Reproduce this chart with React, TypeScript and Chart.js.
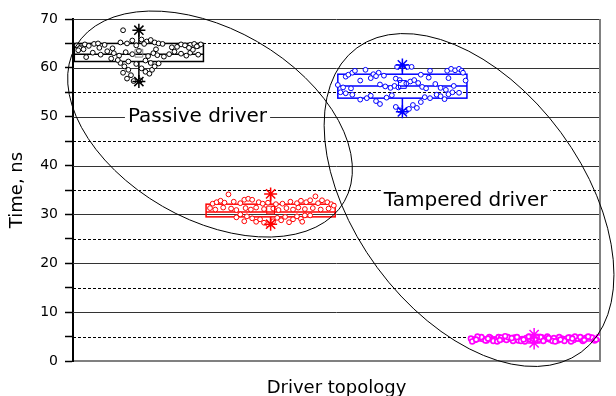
import React, { useEffect, useRef } from 'react';
import { Chart, registerables } from 'chart.js';

Chart.register(...registerables);

// ---- data ----
const categories = ['Passive A', 'Passive B', 'Tampered A', 'Tampered B'];
const colors = ['#000000', '#ff0000', '#0000ff', '#ff00ff'];
const meanColors = ['#808080', '#ff0000', '#0000ff', '#ff00ff'];

const blackOffsets = [-0.47, -0.44, -0.41, -0.38, -0.34, -0.31, -0.14, -0.09, -0.05, 0.02, 0.06, 0.09, 0.12, 0.15, 0.18, 0.32, 0.35, 0.39, 0.42, 0.45, 0.47, -0.45, -0.42,
  -0.40, -0.35, -0.29, -0.24, -0.19, -0.15, -0.10, -0.05, 0.07, 0.11, 0.14, 0.19, 0.23, 0.27, 0.32, 0.36, 0.39, 0.45,
  -0.14, -0.11, -0.08, -0.12, -0.06, -0.09, -0.04, -0.02, 0.02, 0.05, 0.08, 0.10, 0.12, 0.09, -0.16, -0.21, 0.05, 0.01, 0.15, -0.08,
  -0.46, -0.30, 0.0, 0.25, 0.41, -0.20, 0.13, -0.02, 0.04, 0.29, 0.38, 0.44, -0.26,
  -0.12];
const blackValues = [64.6, 64.2, 64.8, 64.5, 64.9, 65.0, 65.2, 65.0, 65.6, 65.8, 65.4, 65.7, 65.2, 65.0, 64.9, 64.8, 64.6, 64.7, 64.9, 64.5, 64.8, 64.0, 63.8,
  62.2, 63.1, 62.7, 63.4, 63.0, 62.5, 63.2, 62.8, 62.4, 63.0, 62.6, 62.3, 62.8, 63.3, 62.9, 62.5, 63.1, 62.7,
  61.0, 60.3, 59.6, 59.0, 58.5, 57.8, 57.3, 60.8, 59.9, 59.2, 58.8, 59.6, 60.3, 61.0, 61.6, 61.9, 61.5, 57.4, 60.9, 61.3,
  63.6, 64.1, 63.5, 64.2, 63.7, 64.0, 63.8, 64.6, 64.9, 64.3, 64.1, 64.4, 64.7,
  67.7];

const redOffsets = [-0.44, -0.41, -0.38, -0.35, -0.32, -0.28, -0.23, -0.20, -0.17, -0.14, -0.09, -0.06, -0.02, 0.04, 0.09, 0.15, 0.20, 0.23, 0.27, 0.30, 0.34, 0.36, 0.39, 0.43, 0.46, 0.48,
  -0.46, -0.42, -0.36, -0.30, -0.26, -0.19, -0.15, -0.11, -0.05, 0.02, 0.06, 0.12, 0.17, 0.21, 0.26, 0.32, 0.38, 0.44,
  -0.23, -0.18, -0.14, -0.11, -0.08, -0.05, -0.02, 0.02, 0.05, 0.08, 0.11, 0.14, 0.17, 0.20, 0.23, 0.26, -0.26, -0.20, 0.24, 0.30];
const redValues = [32.2, 32.5, 32.8, 32.4, 34.1, 32.6, 32.3, 33.0, 33.2, 33.0, 32.5, 32.2, 32.4, 32.1, 32.2, 32.6, 32.3, 32.8, 32.5, 32.9, 33.7, 32.3, 32.9, 32.5, 32.1, 31.8,
  31.3, 31.0, 31.4, 31.2, 30.9, 31.3, 31.0, 31.4, 31.1, 31.2, 30.9, 31.3, 31.0, 31.4, 31.1, 31.3, 31.0, 31.2,
  30.0, 29.6, 29.2, 28.5, 29.0, 28.3, 28.0, 28.6, 29.3, 28.8, 29.5, 28.4, 29.0, 29.6, 29.1, 29.8, 29.4, 28.6, 28.5, 29.8];

const blueOffsets = [-0.43, -0.41, -0.38, -0.36, -0.22, -0.18, -0.14, -0.04, 0.0, 0.04, 0.07, 0.20, 0.21, 0.35, 0.34, 0.37, 0.40, 0.43, 0.45, 0.46, -0.28, 0.14,
  -0.49, -0.45, -0.39, -0.17, -0.13, -0.09, -0.06, -0.03, 0.03, 0.06, 0.09, 0.12, 0.15, 0.18, 0.25, 0.29, 0.33, 0.39, 0.48, -0.32, -0.24, -0.20, -0.05, -0.02,
  -0.47, -0.43, -0.38, -0.32, -0.27, -0.24, -0.20, -0.17, -0.12, -0.08, -0.05, -0.02, 0.02, 0.05, 0.08, 0.11, 0.14, 0.17, 0.21, 0.26, 0.29, 0.32, 0.35, 0.38, 0.43];
const blueValues = [58.2, 58.6, 59.0, 59.4, 58.7, 59.0, 58.4, 60.2, 60.4, 60.2, 60.2, 58.0, 59.4, 57.9, 59.4, 59.8, 59.5, 59.8, 59.4, 59.0, 59.6, 58.6,
  56.5, 56.0, 55.8, 56.6, 56.2, 55.9, 56.3, 56.0, 56.8, 57.2, 57.5, 56.9, 56.1, 55.8, 56.7, 55.9, 55.5, 56.3, 57.4, 57.4, 57.9, 58.3, 57.8, 57.5,
  55.0, 54.8, 54.5, 53.5, 53.8, 54.3, 53.2, 52.6, 53.9, 54.4, 52.0, 51.3, 51.0, 51.6, 52.4, 51.8, 53.0, 54.0, 53.8, 54.5, 54.2, 53.6, 54.6, 55.0, 54.9];

const magentaOffsets = [-0.48, -0.45, -0.42, -0.39, -0.36, -0.33, -0.30, -0.27, -0.24, -0.21, -0.18, -0.15, -0.12, -0.09, -0.06, -0.03, 0.0, 0.03, 0.06, 0.09, 0.12,
  0.15, 0.18, 0.21, 0.24, 0.27, 0.30, 0.33, 0.36, 0.39, 0.42, 0.45, 0.48, -0.40, -0.31, -0.20, -0.10, 0.05, 0.14, 0.26, 0.35, 0.44,
  -0.47, -0.43, -0.37, -0.34, -0.28, -0.25, -0.22, -0.16, -0.13, -0.07, -0.04, -0.01, 0.02, 0.07, 0.10, 0.16, 0.19, 0.23, 0.28, 0.31, 0.37, 0.41, 0.46, 0.49,
  -0.44, -0.35, -0.26, -0.17, -0.08, 0.01, 0.11, 0.20, 0.29, 0.38, 0.47];
const magentaValues = [4.6, 4.3, 4.8, 4.5, 4.2, 4.7, 4.4, 4.9, 4.5, 4.3, 4.6, 4.8, 4.2, 4.5, 4.7, 4.4, 4.6, 4.3, 4.8, 4.5, 4.4,
  4.7, 4.2, 4.6, 4.5, 4.8, 4.3, 4.6, 4.4, 4.7, 4.9, 4.5, 4.6, 4.9, 4.1, 4.9, 4.1, 4.9, 4.1, 4.8, 4.9, 4.8,
  4.0, 5.0, 4.2, 4.9, 4.0, 4.8, 5.1, 4.1, 4.9, 4.0, 5.0, 4.2, 4.9, 4.1, 5.0, 4.0, 4.9, 4.1, 4.0, 5.0, 4.1, 5.0, 4.2, 4.9,
  4.4, 4.6, 4.3, 4.7, 4.4, 4.3, 4.7, 4.4, 4.6, 4.3, 4.4];

const groupOffsets = [blackOffsets, redOffsets, blueOffsets, magentaOffsets];
const groupValues = [blackValues, redValues, blueValues, magentaValues];

const boxQ1 = [61.3, 29.5, 53.8, 4.1];
const boxQ3 = [65.0, 32.1, 58.7, 4.9];
const boxMedian = [62.8, 30.5, 56.3, 4.5];
const boxMean = [63.0, 30.9, 56.6, 4.5];
const whiskerLow = [57.2, 28.0, 51.0, 3.7];
const whiskerHigh = [67.7, 34.2, 60.6, 5.4];

const yMin = 0;
const yMax = 70;
const yStep = 5;
const yLabelStep = 10;

const labelTexts = ['Passive driver', 'Tampered driver'];
const labelX = [0.945, 2.98];
const labelY = [50, 32.85];

const ellipseCX = [1.04, 3.006];
const ellipseCY = [48.5, 32.95];

const xTitle = 'Driver topology';
const yTitle = 'Time, ns';

// ---- styles ----
const FONT = 'DejaVu Sans';
const boxHalf = 0.49;
const pointBorder = [1, 1, 1, 1.6];
const ellipseRX = [155, 189];
const ellipseRY = [95, 114];
const ellipseRot = [30, 53.6];

const overlay = {
  id: 'overlay',
  beforeDatasetsDraw(chart: any) {
    const { ctx, chartArea: a, scales } = chart;
    const x = scales.x;
    const y = scales.y;
    ctx.save();
    for (let v = yMin + yStep; v <= yMax; v += yStep) {
      const py = Math.round(y.getPixelForValue(v)) + 0.5;
      ctx.beginPath();
      if (v % yLabelStep === 0) {
        ctx.setLineDash([]);
        ctx.strokeStyle = '#333333';
      } else {
        ctx.setLineDash([3, 2]);
        ctx.strokeStyle = '#000000';
      }
      ctx.lineWidth = 1;
      ctx.moveTo(a.left, py);
      ctx.lineTo(a.right, py);
      ctx.stroke();
    }
    ctx.setLineDash([]);
    // right border
    ctx.strokeStyle = '#808080';
    ctx.lineWidth = 2;
    ctx.beginPath();
    ctx.moveTo(a.right, a.top);
    ctx.lineTo(a.right, a.bottom);
    ctx.stroke();
    // boxes
    categories.forEach((_, i) => {
      const cx = x.getPixelForValue(i + 0.5);
      const l = x.getPixelForValue(i + 0.5 - boxHalf);
      const r = x.getPixelForValue(i + 0.5 + boxHalf);
      const t = y.getPixelForValue(boxQ3[i]);
      const b = y.getPixelForValue(boxQ1[i]);
      const m = y.getPixelForValue(boxMedian[i]);
      ctx.strokeStyle = colors[i];
      ctx.lineWidth = 1.5;
      ctx.strokeRect(l, t, r - l, b - t);
      ctx.beginPath();
      ctx.moveTo(l, m);
      ctx.lineTo(r, m);
      ctx.moveTo(cx, t);
      ctx.lineTo(cx, y.getPixelForValue(whiskerHigh[i]));
      ctx.moveTo(cx, b);
      ctx.lineTo(cx, y.getPixelForValue(whiskerLow[i]));
      ctx.stroke();
    });
    ctx.restore();
  },
  afterDraw(chart: any) {
    const { ctx, scales } = chart;
    const x = scales.x;
    const y = scales.y;
    ctx.save();
    ctx.strokeStyle = '#000000';
    ctx.lineWidth = 1;
    ellipseCX.forEach((ex, i) => {
      ctx.beginPath();
      ctx.ellipse(x.getPixelForValue(ex), y.getPixelForValue(ellipseCY[i]), ellipseRX[i], ellipseRY[i], (ellipseRot[i] * Math.PI) / 180, 0, Math.PI * 2);
      ctx.stroke();
    });
    ctx.font = `20px "${FONT}"`;
    ctx.textAlign = 'center';
    ctx.textBaseline = 'middle';
    labelTexts.forEach((txt, i) => {
      const px = x.getPixelForValue(labelX[i]);
      const py = y.getPixelForValue(labelY[i]);
      const w = ctx.measureText(txt).width + 6;
      ctx.fillStyle = '#ffffff';
      ctx.fillRect(px - w / 2, py - 12, w, 24);
      ctx.fillStyle = '#000000';
      ctx.fillText(txt, px, py);
    });
    ctx.restore();
  },
};

export default function App() {
  const ref = useRef<HTMLCanvasElement>(null);
  useEffect(() => {
    if (!ref.current) return;
    const datasets: any[] = [];
    categories.forEach((_, i) => {
      datasets.push({
        label: categories[i] + ' whiskers',
        data: [
          { x: i + 0.5, y: whiskerHigh[i] },
          { x: i + 0.5, y: whiskerLow[i] },
        ],
        pointStyle: 'star',
        radius: 6.5,
        borderColor: colors[i],
        backgroundColor: colors[i],
        borderWidth: 1.5,
        order: 0,
      });
      datasets.push({
        label: categories[i] + ' mean',
        data: [{ x: i + 0.5, y: boxMean[i] }],
        pointStyle: 'rect',
        radius: 5.5,
        borderColor: meanColors[i],
        backgroundColor: 'rgba(255,255,255,0)',
        borderWidth: 1,
        order: 1,
      });
      datasets.push({
        label: categories[i],
        data: groupOffsets[i].map((o, k) => ({ x: i + 0.5 + o, y: groupValues[i][k] })),
        pointStyle: 'circle',
        radius: 2.4,
        borderColor: colors[i],
        backgroundColor: '#ffffff',
        borderWidth: pointBorder[i],
        order: 2,
      });
    });
    const chart = new Chart(ref.current, {
      type: 'scatter',
      data: { datasets },
      options: {
        animation: false,
        responsive: false,
        devicePixelRatio: 1,
        events: [],
        layout: { padding: { left: 0, top: 19, right: 16, bottom: 0 } },
        plugins: { legend: { display: false }, tooltip: { enabled: false } },
        scales: {
          x: {
            type: 'linear',
            min: 0,
            max: categories.length,
            ticks: { display: false },
            grid: { display: false },
            border: { display: true, color: '#808080', width: 2 },
            title: { display: true, text: xTitle, color: '#000', font: { family: FONT, size: 18 }, padding: { top: 0, bottom: -3 } },
            afterFit: (s: any) => { s.height = 35; },
          },
          y: {
            min: yMin,
            max: yMax,
            ticks: {
              stepSize: yStep,
              autoSkip: false,
              color: '#000',
              padding: 7,
              font: { family: FONT, size: 14 },
              callback: (v: any) => (Number(v) % yLabelStep === 0 ? String(v) : ''),
            },
            grid: { drawOnChartArea: false, drawTicks: true, tickLength: 8, tickColor: '#000', tickWidth: 1.5 },
            border: { display: true, color: '#000', width: 2 },
            title: { display: true, text: yTitle, color: '#000', font: { family: FONT, size: 18 }, padding: { top: 7, bottom: 0 } },
            afterFit: (s: any) => { s.width = 73; },
          },
        },
      },
      plugins: [overlay],
    });
    return () => chart.destroy();
  }, []);
  return (
    <div style={{ position: 'absolute', left: 0, top: 0, width: 616, height: 396, background: '#fff' }}>
      <canvas ref={ref} width={616} height={396} style={{ display: 'block' }} />
    </div>
  );
}
